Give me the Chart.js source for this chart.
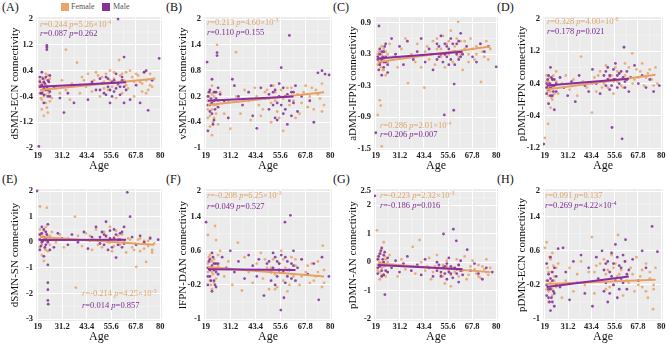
<!DOCTYPE html>
<html><head><meta charset="utf-8">
<script src="https://cdn.jsdelivr.net/npm/chart.js@4.4.1/dist/chart.umd.min.js"></script>
<style>
html,body{margin:0;padding:0;background:#fff;width:669px;height:344px;overflow:hidden;position:relative;font-family:'Liberation Serif','Times New Roman',serif;}
canvas{position:absolute;}
.pl{position:absolute;font-size:12px;line-height:12px;color:#111;white-space:nowrap;}
.lg{position:absolute;font-size:8px;line-height:8px;color:#555;white-space:nowrap;}
.sw{position:absolute;width:8px;height:8px;}
</style></head><body>
<div class="pl" style="left:2px;top:1px">(A)</div>
<div class="pl" style="left:166px;top:1px">(B)</div>
<div class="pl" style="left:333px;top:1px">(C)</div>
<div class="pl" style="left:497px;top:1px">(D)</div>
<div class="pl" style="left:2px;top:173px">(E)</div>
<div class="pl" style="left:166px;top:173px">(F)</div>
<div class="pl" style="left:333px;top:173px">(G)</div>
<div class="pl" style="left:497px;top:173px">(H)</div>
<div class="sw" style="left:61px;top:3px;background:#E8A46A"></div>
<div class="lg" style="left:71px;top:3px">Female</div>
<div class="sw" style="left:102px;top:3px;background:#8A3196"></div>
<div class="lg" style="left:113px;top:3px">Male</div>
<script>
// ---------- tick labels ----------
const xTicks = [19, 31.2, 43.4, 55.6, 67.8, 80];
const yTicksA = [-2, -1.2, -0.4, 0.4, 1.2, 2];
const yTicksB = [-1, -0.4, 0.2, 0.8, 1.4, 2];
const yTicksC = [-1.5, -0.9, -0.3, 0.3, 0.9];
const yTicksD = [-1.2, -0.4, 0.4, 1.2, 2];
const yTicksE = [-3, -2, -1, 0, 1, 2];
const yTicksF = [-1, -0.2, 0.6, 1.4, 2];
const yTicksG = [-2, -1, 0, 1, 2, 2.5];
const yTicksH = [-1, -0.2, 0.6, 1.4, 2];

// ---------- series values [age, connectivity] ----------
const femaleA = [[20,-0.3],[20,0.1],[21,-0.5],[21,-0.8],[21,0.2],[22,-0.2],[22,-1.0],[22,0.05],[23,-0.6],[23,0.3],[23,-0.35],[24,-0.1],[24,-0.9],[25,0.15],[26,-0.45],[28,-0.15],[30,-0.3],[31,0.1],[33,-0.2],[33,1.05],[35,-0.5],[36,0.0],[38.5,0.65],[40,-0.3],[41,0.2],[43,-0.1],[44,0.3],[46,-0.25],[47,0.1],[48,0.35],[50,-0.4],[51,0.2],[52,0.05],[53,0.3],[54,-0.2],[55,0.4],[56,-0.1],[57,0.15],[58,-0.45],[59.5,0.73],[60,0.25],[61,-0.3],[62,0.1],[63,0.35],[64,-0.15],[66,0.2],[67,-0.4],[68,0.3],[70,0.05],[71,-0.25],[72,0.35],[73,0.1],[74,-0.2],[75,0.3],[76,-0.1],[77,0.15],
 [20,-0.05],[20.5,-0.45],[21,0.0],[21.5,-0.25],[22,-0.4],[22.5,0.15],[23,-0.05],[23.5,-0.75],[24,0.25],[24.5,-0.3],[25,-0.55],[42,0.1],[45,-0.05],[49,0.25],[52,-0.15],[55,0.1],[57,0.35],[59,-0.05],[61,0.3],[63,-0.05],[65,0.4],[67,0.05],[69,0.25],[71,0.0],[73,-0.3],[75,-0.05]];
const maleA = [[19.5,-1.95],[20,-0.1],[20,0.2],[21,-0.3],[21,0.35],[22,-0.15],[22,0.05],[22,-0.6],[23.5,1.05],[23.5,1.12],[23.5,1.18],[23,-0.2],[24,0.1],[24,-0.4],[25,-0.25],[25,0.25],[27,-0.1],[30,-0.45],[32,-0.9],[34,-0.3],[37,-0.6],[40,-0.05],[44,-0.5],[46,0.05],[48,-0.2],[50,0.15],[52,-0.3],[53,0.2],[54,-0.1],[55,-0.6],[56,0.05],[57,-0.25],[58,0.3],[59,2.0],[60,-0.1],[61,0.1],[62,0.82],[62,-0.6],[63,-0.2],[65,-0.5],[68,-0.05],[70,-0.6],[72,0.35],[73,0.4],[74,-0.83],[76,0.1],[79.5,0.78],
 [20,0.05],[20.5,-0.3],[21,-0.05],[21.5,0.15],[22,-0.35],[22.5,0.0],[23,0.2],[23.5,-0.1],[24,-0.2],[24.5,0.05],[25,-0.4],[50,-0.2],[51,0.0],[53,-0.35],[54,0.15],[55,-0.2],[56,-0.4],[57,0.1],[58,-0.15],[59,0.0],[60,-0.35],[61,0.2],[62,-0.1]];
const femaleB = [[20,0.1],[20,-0.3],[21,0.3],[21,-0.5],[22,-0.1],[22,0.45],[22,-0.7],[23,0.2],[23,-0.3],[24.5,1.4],[24,0.0],[25,-0.45],[26,0.3],[28,-0.2],[30,0.1],[31,-0.55],[33.8,1.23],[34,0.2],[36,-0.2],[38,0.35],[40,0.1],[41,-0.35],[43,0.4],[45,0.0],[46,-0.25],[48,0.3],[50,0.15],[51,-0.4],[52,0.45],[53,0.1],[54,-0.15],[56,0.35],[57,-0.6],[58,0.2],[60,0.0],[61,0.4],[63,-0.3],[64,0.25],[66,0.05],[68,0.45],[70,0.2],[72,-0.1],[73,0.35],[75,0.15],[76,0.5],[77,0.0],
 [20,-0.1],[20.5,0.2],[21,-0.25],[21.5,0.05],[22,0.25],[22.5,-0.4],[23,0.0],[23.5,0.3],[24,-0.2],[25,0.1],[44,0.2],[47,-0.1],[49,0.35],[51,0.05],[53,0.3],[55,-0.3],[57,0.15],[59,0.4],[62,0.1],[65,-0.2],[67,0.3],[69,-0.05],[71,0.4],[74,0.25],[76,-0.15]];
const maleB = [[19.6,1.0],[20,-0.6],[20,0.2],[21,0.0],[21,0.35],[22,-0.2],[22,0.6],[23,0.1],[23,-0.35],[24.5,1.15],[24.5,1.22],[24,0.3],[25,-0.05],[26,0.25],[28,0.1],[30,-0.3],[32,0.6],[33,0.45],[35,0.2],[37,0.0],[40,0.3],[42,-0.25],[44,-0.54],[46,0.4],[48,0.15],[50,-0.1],[52,0.3],[53,-0.3],[54,0.05],[55,0.5],[56,0.87],[57,-0.2],[58,0.2],[59,-0.45],[60,1.62],[61,0.3],[62,0.05],[63,0.45],[64,-0.15],[66,0.2],[70,0.1],[72,-0.4],[74,0.75],[76,0.8],[77.5,0.72],[79.5,0.7],
 [20,0.0],[20.5,0.3],[21,-0.15],[21.5,0.15],[22,0.05],[22.5,-0.45],[23,0.3],[23.5,-0.1],[24,0.15],[25,0.4],[50,0.25],[51,0.45],[52,0.0],[53,0.35],[54,-0.35],[55,0.2],[56,0.0],[57,0.4],[58,-0.1],[59,0.25],[60,0.1],[61,-0.25],[62,0.3]];
const femaleC = [[20,0.3],[20,-0.86],[21,0.1],[21,-0.58],[21.5,-0.68],[22,0.45],[22,-1.46],[23,0.2],[23,0.0],[24,0.35],[25,0.15],[26,0.5],[28,0.25],[30,0.05],[32,0.4],[34,0.6],[35.3,-0.25],[37,0.3],[39,0.15],[40,0.5],[42,0.05],[43.6,-0.34],[44,0.35],[46,0.2],[48,0.55],[49,0.1],[50,0.4],[52,0.25],[53,0.65],[54,0.05],[55,0.5],[56,0.3],[57,0.75],[58,0.15],[59,0.45],[60.7,0.92],[61,0.25],[62,0.55],[63,0.0],[64,0.4],[66,0.3],[67,0.6],[69,0.2],[70,0.45],[72.3,-0.23],[73,0.35],[75,0.55],[76,0.2],[77,0.4],
 [20,0.1],[20.5,0.35],[21,0.2],[21.5,0.05],[22,0.3],[22.5,0.0],[23,0.4],[23.5,0.15],[24,-0.1],[25,0.3],[45,0.45],[47,0.3],[50,0.6],[52,0.4],[54,0.3],[56,0.55],[58,0.35],[60,0.6],[62,0.3],[64,0.55],[66,0.15],[68,0.4],[70,0.3],[72,0.5],[74,0.25]];
const maleC = [[19,-1.2],[20.6,0.84],[20,0.25],[21,0.1],[21,0.4],[22,0.2],[22,-0.1],[23,0.35],[23,0.05],[24,0.5],[24,0.15],[25,-0.05],[27,0.6],[29,0.3],[31,0.45],[33,0.1],[35,0.55],[38,0.2],[40,0.35],[42,0.6],[44,0.15],[46,0.4],[48,0.0],[50,0.5],[51,0.25],[52,0.65],[53.7,-0.86],[54,0.3],[55,0.45],[56,0.1],[57,0.6],[58.5,-0.77],[58.7,-0.27],[59,0.35],[60,0.5],[61,0.2],[62,0.7],[63,0.3],[65,0.45],[68,0.25],[70,0.15],[72,0.5],[74,0.35],[76,0.45],[80,0.06],
 [20,0.2],[20.5,0.0],[21,0.3],[21.5,0.15],[22,0.35],[22.5,0.25],[23,0.15],[23.5,0.45],[24,0.25],[25,0.1],[50,0.2],[51,0.45],[52,0.3],[53,0.15],[54,0.5],[55,0.25],[56,0.4],[57,0.2],[58,0.5],[59,0.1],[60,0.3],[61,0.55],[62,0.25]];
const femaleD = [[19.1,-0.95],[20,0.3],[20,0.6],[20.7,-0.6],[21,0.1],[21,0.45],[22,0.2],[22,-0.2],[23,0.5],[23,0.0],[24,0.35],[25,0.7],[26,0.15],[28,0.4],[30,0.6],[32,0.25],[34,0.5],[36,0.1],[38,1.07],[39,0.45],[41,0.3],[43.7,-0.32],[45,0.55],[46,0.2],[48,0.7],[50,0.4],[51,0.85],[52,0.3],[54,0.6],[55,0.15],[56,0.8],[57,0.45],[58,0.65],[60,0.3],[61,0.9],[62,0.5],[64.8,1.15],[65,0.4],[67,0.75],[68,0.55],[70,0.9],[71,0.35],[73,0.65],[75,0.5],[77,0.8],[78,0.4],
 [20,0.45],[20.5,0.2],[21,0.3],[21.5,0.55],[22,0.4],[22.5,0.05],[23,0.3],[23.5,0.6],[24,0.15],[25,0.45],[44,0.4],[47,0.6],[49,0.3],[53,0.55],[55,0.45],[57,0.7],[59,0.35],[61,0.6],[63,0.8],[66,0.5],[69,0.7],[72,0.55],[74,0.75],[76,0.35]];
const maleD = [[18.5,-1.1],[20,0.4],[20,0.15],[21,0.6],[21,-0.1],[22,0.3],[22,0.8],[23,0.1],[23,0.5],[24,-0.25],[24,0.35],[25,0.2],[27,0.55],[29,0.3],[31,0.1],[33,0.45],[35,-0.05],[37,0.6],[40,0.35],[42,0.2],[44,0.75],[46,0.4],[48,0.15],[50,0.6],[51,0.35],[52,0.8],[53,0.25],[54.2,-0.69],[55,0.5],[56,0.9],[57,0.3],[58,0.65],[59.5,-0.97],[60.5,1.3],[61,0.45],[62,0.7],[63,0.2],[64,0.55],[66,0.85],[68,0.4],[70,0.6],[72,0.3],[74,0.5],[76,0.2],[79,0.35],
 [20,0.3],[20.5,0.5],[21,0.25],[21.5,0.4],[22,0.1],[22.5,0.55],[23,0.35],[23.5,0.2],[24,0.5],[25,0.4],[50,0.45],[51,0.7],[52,0.5],[53,0.6],[54,0.35],[55,0.75],[56,0.5],[57,0.6],[58,0.4],[59,0.7],[60,0.55],[61,0.3],[62,0.5]];
const femaleE = [[20.1,1.4],[20,0.5],[20,-0.2],[21,0.3],[21,-0.5],[22,-0.73],[22,0.1],[23,0.6],[23,-0.3],[23.5,1.35],[24,0.2],[25,-0.1],[26,0.4],[28,0.0],[30,0.3],[32,-0.2],[34,0.15],[37.5,1.0],[37.9,-1.77],[39,0.25],[41,-0.15],[43,0.35],[45,0.05],[46,-0.3],[48,0.5],[50,0.1],[51,-0.2],[52,0.4],[54,0.0],[55,0.6],[56,-0.35],[57,0.2],[58,0.45],[60,-0.1],[61,0.3],[63,-0.4],[64,0.15],[66,-0.2],[68.1,-0.96],[69,0.1],[70,-0.35],[72,0.05],[73,-0.77],[74,-0.15],[75,0.2],[76,-0.3],[77,-0.05],
 [20,0.1],[20.5,0.35],[21,-0.1],[21.5,0.2],[22,0.45],[22.5,-0.25],[23,0.05],[23.5,0.3],[24,-0.35],[25,0.25],[45,0.25],[47,0.1],[49,-0.1],[53,0.2],[55,0.0],[57,-0.15],[59,0.25],[62,0.05],[65,0.1],[67,-0.3],[70,0.15],[72,-0.25],[74,0.05],[76,-0.4]];
const maleE = [[18.6,2.0],[20,0.3],[20,-0.3],[21,0.6],[21,0.0],[22,0.2],[22,-0.55],[23,0.4],[23,-0.1],[24,-0.88],[24,-1.58],[24,-1.85],[24,-2.27],[24.2,-2.42],[24,0.7],[25,0.1],[27,-0.2],[29,0.35],[31,0.15],[34,-0.1],[36,0.3],[39,0.0],[42,0.4],[44,-0.25],[46,0.2],[48,0.6],[50,-0.05],[52,0.3],[53,0.8],[54,-0.3],[55,0.15],[57,0.5],[58,-0.6],[59,0.1],[60,0.35],[61,-0.2],[62,0.6],[63.6,1.95],[65,1.0],[66,0.2],[68,-0.1],[70,0.25],[72,0.0],[75,0.15],[79,0.1],
 [20,0.1],[20.5,-0.15],[21,0.35],[21.5,0.05],[22,0.5],[22.5,-0.2],[23,0.15],[23.5,0.3],[24,0.0],[25,-0.3],[50,0.2],[51,0.4],[52,-0.1],[53,0.25],[54,0.05],[55,0.45],[56,-0.2],[57,0.15],[58,0.3],[59,-0.1],[60,0.1],[61,0.4],[62,-0.05]];
const femaleF = [[20,0.97],[20,0.3],[21,-0.1],[21,0.5],[22,0.1],[22,-0.3],[23,0.4],[23.5,1.18],[24,0.85],[24,-0.05],[25,0.25],[26,0.6],[28,0.0],[30,0.35],[32,-0.2],[34.7,0.79],[36.7,-0.33],[38,0.45],[40,0.1],[42,-0.15],[44,0.3],[46,0.55],[47,-0.05],[49,0.2],[50,-0.3],[52,0.4],[53,0.05],[54,-0.25],[55,0.3],[56,0.6],[57,-0.1],[58,0.2],[59,-0.35],[61,0.45],[62,0.0],[63,0.25],[65,-0.2],[66,0.4],[68,0.1],[70,-0.15],[71,0.3],[73,0.0],[74,0.35],[76.4,0.72],[76,-0.25],[77,0.15],
 [20,0.1],[20.5,0.45],[21,0.2],[21.5,-0.2],[22,0.35],[22.5,0.05],[23,-0.15],[23.5,0.3],[24,0.15],[25,0.5],[45,0.15],[48,0.4],[51,0.2],[53,-0.3],[55,0.1],[57,0.4],[59,0.15],[60,-0.2],[63,0.4],[66,0.0],[69,0.25],[72,-0.1],[74,0.1],[77,-0.15]];
const maleF = [[19.1,1.27],[20,0.2],[20,-0.2],[21,0.4],[21,0.0],[22,0.55],[22,-0.35],[23,0.15],[23,-0.1],[24,0.3],[24,-0.25],[25,0.05],[27,0.45],[29,0.2],[31,0.6],[33,0.1],[35,0.35],[38,-0.05],[40,0.5],[42,0.25],[44,0.0],[45,0.4],[47.5,-0.45],[49,0.3],[51,0.1],[52,0.55],[53,-0.2],[54,0.35],[55,0.15],[55.8,-0.79],[57.3,-0.5],[57.8,1.27],[58,0.45],[59,0.0],[60.5,1.43],[61,0.3],[62,0.6],[63,-0.1],[64,0.2],[66,0.4],[69,0.05],[72,0.3],[74.4,-0.55],[76,0.45],[79.4,0.0],
 [20,0.0],[20.5,0.35],[21,0.15],[21.5,-0.1],[22,0.25],[22.5,0.45],[23,0.3],[23.5,-0.2],[24,0.1],[25,0.3],[50,0.35],[51,-0.1],[52,0.2],[53,0.45],[54,0.0],[55,0.3],[56,0.5],[57,0.1],[58,-0.15],[59,0.35],[60,0.15],[61,-0.05],[62,0.25]];
const femaleG = [[19.6,1.12],[20,-0.3],[20,0.2],[21,-0.6],[21,0.0],[22,0.45],[22,-0.2],[23,0.7],[23,-0.45],[24,0.1],[25,-0.35],[26,0.25],[28,-0.1],[30,-0.5],[32,0.1],[34,-0.25],[37.7,0.54],[39,-0.4],[41.2,0.78],[42,0.0],[44,-0.3],[46,0.15],[47,-0.6],[49,-0.15],[50,0.25],[52,-0.45],[53,-0.1],[54,-0.75],[55,0.05],[56,-0.3],[57,-0.85],[58,-0.2],[60,0.1],[61,-0.5],[62,-0.25],[64,0.2],[65,-0.6],[67,-0.15],[68,0.05],[70,-0.4],[71,-0.1],[72,-0.55],[74,-0.25],[75,0.1],[76,-0.45],[77,-0.2],
 [20,-0.1],[20.5,0.1],[21,-0.35],[21.5,0.3],[22,-0.45],[22.5,0.0],[23,-0.15],[23.5,0.2],[24,-0.5],[25,0.0],[45,-0.15],[48,-0.35],[51,-0.2],[53,-0.5],[55,-0.15],[57,-0.45],[59,-0.35],[61,-0.1],[63,-0.3],[66,-0.45],[69,-0.25],[71,-0.5],[73,-0.15],[75,-0.35]];
const maleG = [[18.5,2.33],[20,0.1],[20,-0.4],[21,0.3],[21,-0.15],[22,0.5],[22,-0.5],[23,0.0],[23,0.25],[23.6,-1.14],[24,-0.3],[25,0.15],[27,-0.2],[29,0.05],[31,-0.35],[33,-0.05],[35,0.2],[37,-0.3],[40,-0.1],[42,-0.45],[44,0.1],[46,-0.2],[48,-0.5],[50,0.0],[52,-0.35],[53.3,0.99],[54,-0.15],[55,-0.6],[56,0.15],[57,-0.4],[58.3,1.16],[59.8,0.75],[60,-0.25],[61,-0.7],[62,0.05],[63,-0.45],[65.3,0.44],[67,-0.3],[69,-0.05],[71,-0.4],[73,-0.6],[75,-0.2],[78,-0.35],
 [20,-0.2],[20.5,0.2],[21,-0.05],[21.5,0.4],[22,-0.3],[22.5,0.1],[23,-0.45],[23.5,0.35],[24,-0.1],[25,-0.35],[50,-0.3],[51,-0.1],[52,-0.5],[53,-0.2],[54,-0.4],[55,-0.05],[56,-0.35],[57,-0.15],[58,-0.55],[59,-0.2],[60,-0.4],[61,-0.1],[62,-0.3]];
const femaleH = [[19.1,0.67],[20,0.8],[20,-0.3],[21,0.1],[21,-0.6],[22,0.4],[22,-0.15],[23,0.55],[23,-0.45],[24,0.0],[25,-0.25],[26,0.3],[28,-0.5],[30,-0.1],[32,0.2],[34,-0.35],[36,0.05],[38,0.35],[40,-0.2],[42,0.1],[43.7,0.92],[45,-0.4],[46,0.25],[48,-0.1],[50,0.4],[51,-0.3],[52,0.15],[54,0.5],[55,-0.2],[56,0.3],[57.4,0.97],[58,0.05],[60,-0.45],[61,0.35],[63,-0.15],[64,0.2],[66,-0.35],[67,0.45],[69,0.0],[70,-0.25],[72,0.3],[73,-0.5],[75.7,-0.77],[74,0.1],[76,-0.3],[77,0.2],
 [20,-0.1],[20.5,0.2],[21,-0.35],[21.5,0.45],[22,-0.25],[22.5,0.1],[23,-0.3],[23.5,0.25],[24,-0.1],[25,0.2],[45,0.1],[48,0.3],[51,0.05],[53,-0.25],[55,0.2],[57,0.0],[59,0.15],[62,-0.1],[65,0.05],[68,-0.2],[70,0.15],[72,-0.35],[74,-0.05],[76,-0.2]];
const maleH = [[20,-0.2],[20,0.3],[21,-0.5],[21,0.05],[22,-0.8],[22,-0.3],[22,0.45],[23,-0.1],[23,-0.6],[24,0.2],[24,-0.4],[25,0.0],[26,0.65],[27,-0.25],[28.6,0.67],[30,0.1],[32,-0.55],[34,0.35],[36,-0.15],[38,0.5],[40,-0.4],[42,0.2],[44,-0.7],[46,0.45],[47,-0.05],[49,0.6],[50,-0.35],[51,0.3],[52,-0.6],[53,0.1],[54,0.55],[55,-0.2],[56,0.75],[57,-0.5],[58,0.25],[59,-0.05],[60,0.5],[61.3,0.86],[62,-0.3],[63,0.15],[65,0.4],[68,-0.1],[70,0.6],[72,0.2],[75.2,1.17],[78,0.58],
 [20,-0.45],[20.5,-0.1],[21,-0.3],[21.5,-0.6],[22,-0.05],[22.5,-0.5],[23,0.1],[23.5,-0.35],[24,-0.7],[25,-0.2],[50,0.15],[51,-0.15],[52,0.35],[53,-0.4],[54,0.0],[55,0.3],[56,-0.1],[57,0.45],[58,-0.3],[59,0.2],[60,-0.15],[61,0.35],[62,0.05]];

// ---------- fitted lines (end points) ----------
const femaleLineA = [[20,-0.2],[77,0.15]],  maleLineA = [[20,-0.1],[63,0.04]];
const femaleLineB = [[20,0.0],[77,0.3]],    maleLineB = [[20,0.1],[62,0.2]];
const femaleLineC = [[20,0.15],[77,0.45]],  maleLineC = [[20,0.22],[63,0.35]];
const femaleLineD = [[20,0.25],[77,0.62]],  maleLineD = [[20,0.35],[63,0.52]];
const femaleLineE = [[20,0.2],[77,-0.1]],   maleLineE = [[20,0.09],[63,0.1]];
const femaleLineF = [[20,0.22],[77,0.0]],   maleLineF = [[20,0.17],[63,0.15]];
const femaleLineG = [[20,-0.05],[77,-0.35]],maleLineG = [[20,-0.1],[63,-0.25]];
const femaleLineH = [[20,-0.18],[77,-0.08]],maleLineH = [[20,-0.25],[63,0.0]];

// ---------- statistics text [r, p, exponent] ----------
const statsA = [['0.244','5.26×10','-4'], ['0.087','0.262','']];
const statsB = [['0.213','4.60×10','-3'], ['0.110','0.155','']];
const statsC = [['0.286','2.01×10','-4'], ['0.206','0.007','']];
const statsD = [['0.328','4.00×10','-6'], ['0.178','0.021','']];
const statsE = [['-0.214','4.25×10','-3'], ['0.014','0.857','']];
const statsF = [['-0.208','6.25×10','-3'], ['0.049','0.527','']];
const statsG = [['-0.223','2.32×10','-3'], ['-0.186','0.016','']];
const statsH = [['0.091','0.137',''], ['0.269','4.22×10','-4']];

const F_PT = 'rgba(230,163,104,0.85)', M_PT = 'rgba(128,44,150,0.85)';
const F_LN = '#E6A064', M_LN = '#8A2C9C';
const F_TX = '#E0A468', M_TX = '#7E2A94';
const SERIF = "'Liberation Serif','Times New Roman',serif";

const colsX = [[36,162],[204,332],[374,498],[543,663]];
const rowsY = [[15,150],[187,321]];
const YW = 32, PT = 6, PR = 10, XH = 25;

const panels = [
 {t:'dSMN-ECN connectivity', yt:yTicksA, f:femaleA, m:maleA, fl:femaleLineA, ml:maleLineA, st:statsA, dx:4, dy:[8,17], top:true},
 {t:'vSMN-ECN connectivity', yt:yTicksB, f:femaleB, m:maleB, fl:femaleLineB, ml:maleLineB, st:statsB, dx:3, dy:[6,16], top:true},
 {t:'aDMN-lFPN connectivity', yt:yTicksC, f:femaleC, m:maleC, fl:femaleLineC, ml:maleLineC, st:statsC, dx:6, dy:[-24,-15], top:false, ymin:-1.53, ymax:1.01},
 {t:'pDMN-lFPN connectivity', yt:yTicksD, f:femaleD, m:maleD, fl:femaleLineD, ml:maleLineD, st:statsD, dx:4, dy:[5,15], top:true},
 {t:'dSMN-SN connectivity', yt:yTicksE, f:femaleE, m:maleE, fl:femaleLineE, ml:maleLineE, st:statsE, dx:46, dy:[-27,-15], top:false},
 {t:'lFPN-DAN connectivity', yt:yTicksF, f:femaleF, m:maleF, fl:femaleLineF, ml:maleLineF, st:statsF, dx:3, dy:[7,18], top:true},
 {t:'pDMN-AN connectivity', yt:yTicksG, f:femaleG, m:maleG, fl:femaleLineG, ml:maleLineG, st:statsG, dx:6, dy:[7,17], top:true},
 {t:'pDMN-ECN connectivity', yt:yTicksH, f:femaleH, m:maleH, fl:femaleLineH, ml:maleLineH, st:statsH, dx:2, dy:[7,17], top:true}
];

function drawStat(ctx, x, y, s, color){
  const fs = 8.5;
  const segs = [
    {t:'r', it:true}, {t:'='+s[0]+' '}, {t:'p', it:true}, {t:'='+s[1]}
  ];
  if (s[2]) segs.push({t:s[2], sup:true});
  ctx.fillStyle = color; ctx.textBaseline = 'middle'; ctx.textAlign = 'left';
  let cx = x;
  for (const g of segs){
    ctx.font = (g.it ? 'italic ' : '') + (g.sup ? 6 : fs) + 'px ' + SERIF;
    ctx.fillText(g.t, cx, g.sup ? y - 3 : y);
    cx += ctx.measureText(g.t).width;
  }
}

const toXY = a => a.map(([x,y]) => ({x, y}));

panels.forEach((p, i) => {
  const c = i % 4, r = Math.floor(i / 4);
  const [x0, x1] = colsX[c], [y0, y1] = rowsY[r];
  const cv = document.createElement('canvas');
  const W = x1 - x0 + YW + PR, H = y1 - y0 + PT + XH;
  cv.width = W; cv.height = H;
  cv.style.left = (x0 - YW) + 'px'; cv.style.top = (y0 - PT) + 'px';
  cv.style.width = W + 'px'; cv.style.height = H + 'px';
  document.body.appendChild(cv);
  const lo = p.yt[0], hi = p.yt[p.yt.length - 1];
  const ymin = p.ymin !== undefined ? p.ymin : lo - (hi - lo) * 0.015;
  const ymax = p.ymax !== undefined ? p.ymax : hi + (hi - lo) * 0.015;
  const plug = {
    id: 'bg' + i,
    beforeDraw(ch){
      const {ctx, chartArea:a, scales:{x, y}} = ch;
      ctx.save();
      ctx.fillStyle = '#EBEBEB';
      ctx.fillRect(a.left, a.top, a.width, a.height);
      ctx.strokeStyle = 'rgba(255,255,255,0.7)'; ctx.lineWidth = 0.5;
      for (let k = 0; k < xTicks.length - 1; k++){
        const px = x.getPixelForValue((xTicks[k] + xTicks[k+1]) / 2);
        ctx.beginPath(); ctx.moveTo(px, a.top); ctx.lineTo(px, a.bottom); ctx.stroke();
      }
      for (let k = 0; k < p.yt.length - 1; k++){
        const py = y.getPixelForValue((p.yt[k] + p.yt[k+1]) / 2);
        ctx.beginPath(); ctx.moveTo(a.left, py); ctx.lineTo(a.right, py); ctx.stroke();
      }
      ctx.restore();
    },
    afterDraw(ch){
      const {ctx, chartArea:a} = ch;
      ctx.save();
      const base = p.top ? a.top : a.bottom;
      drawStat(ctx, a.left + p.dx, base + p.dy[0], p.st[0], F_TX);
      drawStat(ctx, a.left + p.dx, base + p.dy[1], p.st[1], M_TX);
      ctx.restore();
    }
  };
  new Chart(cv, {
    type: 'scatter',
    data: { datasets: [
      {data: toXY(p.ml), showLine:true, borderColor:M_LN, borderWidth:2, pointRadius:0},
      {data: toXY(p.fl), showLine:true, borderColor:F_LN, borderWidth:2, pointRadius:0},
      {data: toXY(p.m), backgroundColor:M_PT, borderWidth:0, pointRadius:1.4},
      {data: toXY(p.f), backgroundColor:F_PT, borderWidth:0, pointRadius:1.4}
    ]},
    options: {
      responsive:false, animation:false, events:[],
      layout:{padding:{top:PT, right:PR, left:0, bottom:0}},
      plugins:{legend:{display:false}, tooltip:{enabled:false}},
      scales:{
        x:{type:'linear', min:19 - 61*0.015, max:80 + 61*0.015,
           afterBuildTicks: s => { s.ticks = xTicks.map(v => ({value:v})); },
           afterFit: s => { s.height = XH; },
           grid:{color:'#FFFFFF', lineWidth:1, drawTicks:false},
           border:{display:false},
           ticks:{autoSkip:false, maxRotation:0, padding:0.5, color:'#222',
                  font:{family:SERIF, size:8.5, weight:'bold'}, callback: v => String(v)},
           title:{display:true, text:'Age', color:'#111', padding:{top:0, bottom:1.8},
                  font:{family:SERIF, size:12}}},
        y:{type:'linear', min:ymin, max:ymax,
           afterBuildTicks: s => { s.ticks = p.yt.map(v => ({value:v})); },
           afterFit: s => { s.width = YW; },
           grid:{color:'#FFFFFF', lineWidth:1, drawTicks:false},
           border:{display:false},
           ticks:{autoSkip:false, padding:3, color:'#222',
                  font:{family:SERIF, size:8.5, weight:'bold'}, callback: v => String(v)},
           title:{display:true, text:p.t, color:'#111', padding:{top:4.4, bottom:0},
                  font:{family:SERIF, size:11}}}
      }
    },
    plugins:[plug]
  });
});
</script>
</body></html>
